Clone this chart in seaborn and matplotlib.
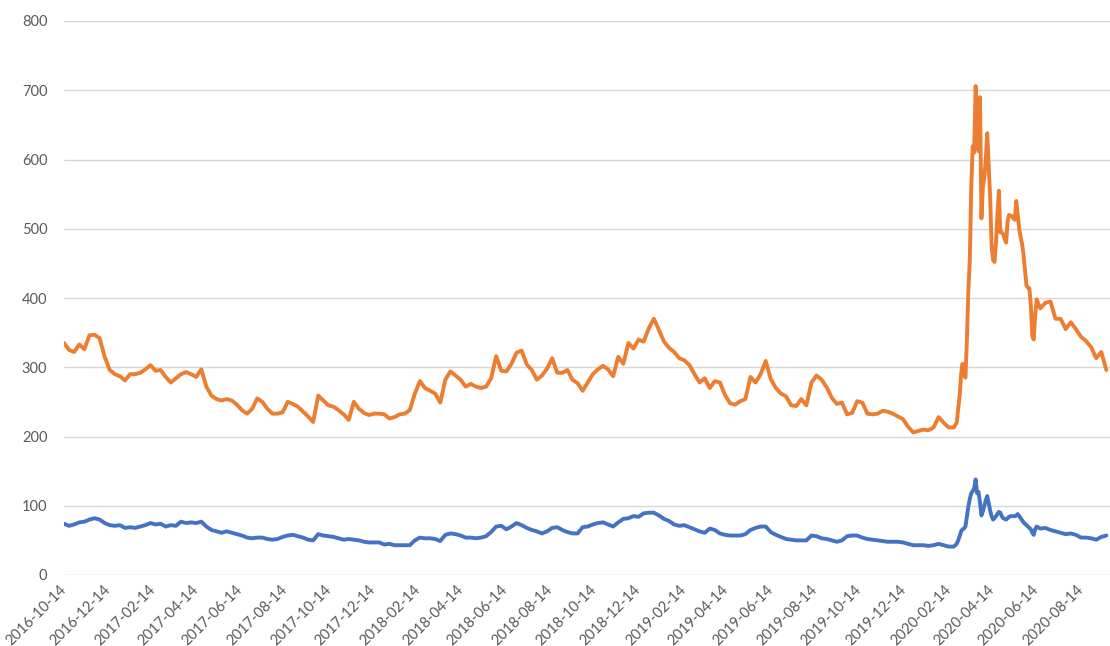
import numpy as np
import pandas as pd
import matplotlib
matplotlib.use("Agg")
import matplotlib.pyplot as plt
import seaborn as sns

# Orange series: weekly readings (Fridays from 2016-10-14 to 2020-02-21)
orange_weekly_a = [
    335, 325, 322, 333, 326, 346, 347, 342, 315, 296,
    290, 287, 281, 290, 290, 292, 297, 303, 295, 296,
    286, 278, 284, 290, 293, 290, 286, 297, 272, 259,
    254, 252, 254, 252, 246, 238, 233, 240, 255, 250,
    240, 233, 233, 235, 250, 247, 243, 236, 229, 221,
    259, 252, 245, 243, 238, 232, 224, 250, 240, 234,
    231, 233, 233, 232, 226, 228, 232, 233, 238, 262,
    280, 270, 266, 262, 249, 282, 294, 288, 282, 272,
    276, 272, 270, 272, 284, 316, 295, 294, 305, 321,
    324, 304, 296, 282, 288, 298, 313, 292, 292, 296,
    282, 277, 266, 278, 290, 297, 302, 297, 287, 315,
    305, 335, 327, 340, 337, 356, 370, 354, 337, 328,
    322, 313, 310, 303, 290, 278, 284, 270, 280, 278,
    260, 248, 246, 251, 254, 286, 278, 290, 309, 283,
    270, 262, 258, 245, 244, 254, 245, 278, 288, 282,
    271, 256, 247, 249, 232, 234, 251, 249, 233, 232,
    233, 237, 236, 233, 229, 225, 214, 206, 208, 210,
    209, 213, 228, 220, 213, 213,
]
# Orange series: every second day from 2020-02-25 to 2020-06-14
orange_dense = [
    220, 240, 258, 290, 305, 290, 285, 340, 410, 455,
    560, 619, 610, 706, 665, 612, 690, 515, 560, 575,
    600, 638, 590, 545, 475, 455, 452, 480, 520, 555,
    495, 495, 492, 485, 480, 510, 520, 519, 518, 515,
    513, 540, 520, 500, 488, 478, 462, 440, 418, 415,
    414, 390, 345, 340, 375, 398,
]
# Orange series: weekly readings from 2020-06-19
orange_weekly_b = [385, 393, 395, 370, 370, 355, 365, 355, 344, 338, 329, 313, 322, 296]

# Blue series, same sampling
blue_weekly_a = [
    74, 71, 73, 76, 77, 80, 82, 80, 75, 72,
    71, 72, 68, 69, 68, 70, 72, 75, 73, 74,
    70, 72, 71, 77, 75, 76, 75, 77, 70, 65,
    63, 61, 63, 61, 59, 57, 54, 53, 54, 54,
    52, 51, 52, 55, 57, 58, 56, 54, 51, 50,
    59, 57, 56, 55, 53, 51, 52, 51, 50, 48,
    47, 47, 47, 44, 45, 43, 43, 43, 43, 50,
    54, 53, 53, 52, 49, 58, 60, 59, 57, 54,
    54, 53, 54, 56, 62, 70, 71, 66, 70, 75,
    72, 68, 65, 63, 60, 63, 68, 69, 65, 62,
    60, 60, 69, 70, 73, 75, 76, 73, 70, 76,
    81, 82, 85, 84, 89, 90, 90, 86, 81, 78,
    73, 71, 72, 69, 66, 63, 61, 67, 65, 60,
    58, 57, 57, 57, 59, 65, 68, 70, 70, 62,
    58, 55, 52, 51, 50, 50, 50, 57, 56, 53,
    52, 50, 48, 50, 56, 57, 57, 54, 52, 51,
    50, 49, 48, 48, 48, 47, 45, 43, 43, 43,
    42, 43, 45, 43, 41, 41,
]
blue_dense = [
    45, 50, 56, 63, 66, 67, 70, 85, 99, 110,
    118, 121, 125, 138, 118, 120, 105, 86, 92, 100,
    108, 114, 104, 93, 85, 80, 82, 85, 88, 91,
    90, 85, 82, 81, 80, 82, 84, 85, 85, 85,
    85, 86, 88, 85, 82, 79, 76, 74, 72, 70,
    68, 66, 61, 58, 66, 70,
]
blue_weekly_b = [67, 68, 65, 63, 61, 59, 60, 58, 54, 54, 53, 51, 55, 57]

y_ticks = [0, 100, 200, 300, 400, 500, 600, 700, 800]
x_tick_dates = pd.date_range("2016-10-01", "2020-08-01", freq="2MS") + pd.Timedelta(days=13)
x_tick_labels = [d.strftime("%Y-%m-%d") for d in x_tick_dates]

ORANGE = "#ED7D31"
BLUE = "#4472C4"


def build(name, weekly_a, dense, weekly_b):
    dates = (
        pd.date_range("2016-10-14", periods=len(weekly_a), freq="7D")
        .append(pd.date_range("2020-02-25", periods=len(dense), freq="2D"))
        .append(pd.date_range("2020-06-19", periods=len(weekly_b), freq="7D"))
    )
    return pd.DataFrame({"date": dates, "value": weekly_a + dense + weekly_b, "series": name})


df = pd.concat([
    build("Series1", blue_weekly_a, blue_dense, blue_weekly_b),
    build("Series2", orange_weekly_a, orange_dense, orange_weekly_b),
], ignore_index=True)

sns.set_theme(style="white")
plt.rcParams["font.family"] = ["Lato", "DejaVu Sans"]

fig = plt.figure(figsize=(11.10, 6.46), dpi=100)
ax = fig.add_axes([64 / 1110, 71 / 646, 1046 / 1110, 554 / 646])

sns.lineplot(
    data=df, x="date", y="value", hue="series",
    palette={"Series1": BLUE, "Series2": ORANGE},
    linewidth=2.8, legend=False, estimator=None, ax=ax,
)
for line in ax.get_lines():
    line.set_solid_joinstyle("round")
    line.set_solid_capstyle("round")

ax.set_xlim(pd.Timestamp("2016-10-14"), pd.Timestamp("2020-09-23"))
ax.set_ylim(0, 800)
ax.set_yticks(y_ticks)
ax.set_xticks(x_tick_dates)
ax.set_xticklabels(x_tick_labels, rotation=45, ha="right", va="center", rotation_mode="anchor")

ax.set_xlabel("")
ax.set_ylabel("")
ax.yaxis.grid(True, color="#D9D9D9", linewidth=1)
ax.xaxis.grid(False)
ax.set_axisbelow(True)
for s in ax.spines.values():
    s.set_visible(False)

ax.tick_params(axis="y", length=0, pad=12, labelsize=10.5, labelcolor="#595959")
ax.tick_params(axis="x", length=0, pad=9, labelsize=10.5, labelcolor="#595959")

fig.savefig("out.png", dpi=100, facecolor="white")
